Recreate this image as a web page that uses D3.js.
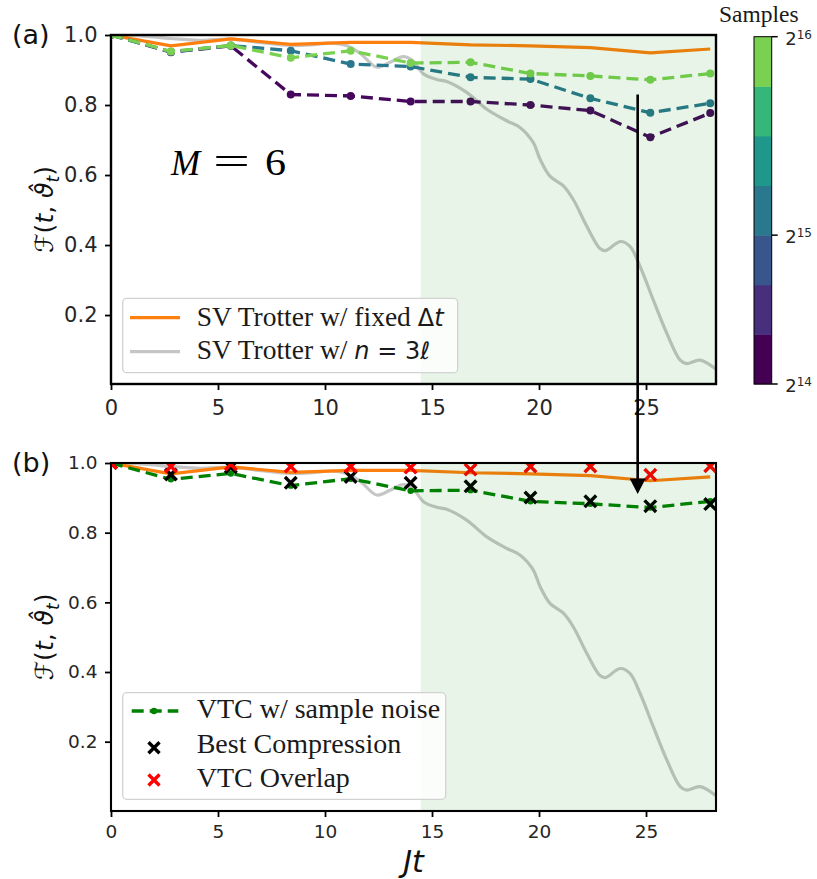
<!DOCTYPE html>
<html><head><meta charset="utf-8">
<script src="https://cdn.jsdelivr.net/npm/d3@7"></script>
<style>body{margin:0;background:#fff}svg{display:block}</style>
</head><body>
<svg id="chart" width="817" height="879"></svg>
<script>
// ---------------- data ----------------
const times = [0, 2.8, 5.6, 8.4, 11.2, 14.0, 16.8, 19.6, 22.4, 25.2, 28.0];
const fid2pow14 = [1.0, 0.951, 0.969, 0.830, 0.826, 0.810, 0.810, 0.800, 0.784, 0.708, 0.777];
const fid2pow15 = [1.0, 0.952, 0.970, 0.955, 0.917, 0.910, 0.879, 0.874, 0.819, 0.778, 0.805];
const fid2pow16 = [1.0, 0.953, 0.970, 0.935, 0.955, 0.920, 0.922, 0.890, 0.883, 0.872, 0.890];
const trotterFixed = [1.0, 0.969, 0.989, 0.973, 0.979, 0.979, 0.972, 0.969, 0.964, 0.949, 0.960];
const bestCompression = [1.0, 0.967, 0.988, 0.943, 0.960, 0.943, 0.933, 0.901, 0.890, 0.876, 0.882];
const vtcOverlap = [1.0, 0.990, 0.996, 0.990, 0.990, 0.987, 0.981, 0.990, 0.990, 0.966, 0.991];
const trotterN3Times = [0, 1.5, 2.8, 4.2, 5.6, 7.0, 8.4, 9.4, 10.3, 11.0, 11.64, 12.42, 13.04, 13.66, 14.13, 14.6, 15.22, 15.69, 16.62, 17.56, 18.49, 19.11, 19.73, 20.05, 20.51, 21.14, 21.6, 22.23, 22.85, 23.1, 23.79, 24.25, 24.72, 25.34, 25.97, 26.6, 26.9, 27.52, 28.27];
const trotterN3Fid = [1.0, 0.997, 0.99, 0.985, 0.988, 0.978, 0.97, 0.972, 0.977, 0.97, 0.948, 0.908, 0.922, 0.938, 0.925, 0.889, 0.873, 0.867, 0.836, 0.788, 0.755, 0.736, 0.693, 0.645, 0.597, 0.569, 0.53, 0.454, 0.39, 0.384, 0.41, 0.396, 0.339, 0.243, 0.148, 0.071, 0.061, 0.071, 0.045];
const xTicks = [0, 5, 10, 15, 20, 25];
const yTicks = [0.2, 0.4, 0.6, 0.8, 1.0];
const xDomain = [0, 28.27];
const shadeStart = 14.47;
const cbarLevels = 7;
const cbarTickLevels = [0, 3, 7];
const cbarTickExps = ["14", "15", "16"];
const arrowT = 24.61, arrowFromA = 0.83, arrowToB = 0.911;

// ---------------- styles ----------------
const C_ORANGE = "#ff7f0e", C_GRAY = "#c6c6c6";
const C14 = "#46085c", C15 = "#2a788e", C16 = "#7ad151";
const SERIF = "'Liberation Serif', 'Times New Roman', serif";
const SANS = "'DejaVu Sans', sans-serif";

const svg = d3.select("#chart");
const L = 111, R = 716;
const x = d3.scaleLinear().domain(xDomain).range([L, R]);

function xMark(cx, cy, h) {
  return `M${cx-h},${cy-h}L${cx+h},${cy+h}M${cx-h},${cy+h}L${cx+h},${cy-h}`;
}

function panel(cfg) {
  const y = d3.scaleLinear().domain(cfg.yDomain).range([cfg.bottom, cfg.top]);
  const g = svg.append("g");
  const cid = "clip" + cfg.id;
  svg.append("defs").append("clipPath").attr("id", cid)
    .append("rect").attr("x", L).attr("y", cfg.top).attr("width", R - L).attr("height", cfg.bottom - cfg.top);
  const plot = g.append("g").attr("clip-path", `url(#${cid})`);
  const lineXY = d3.line().x(d => x(d[0])).y(d => y(d[1]));
  plot.append("path").datum(trotterN3Times.map((t, i) => [t, trotterN3Fid[i]]))
    .attr("d", d3.line().x(d => x(d[0])).y(d => y(d[1])).curve(d3.curveCatmullRom.alpha(0.5)))
    .attr("fill", "none").attr("stroke", C_GRAY).attr("stroke-width", 3.2);
  plot.append("path").datum(times.map((t, i) => [t, trotterFixed[i]]))
    .attr("d", lineXY).attr("fill", "none").attr("stroke", C_ORANGE).attr("stroke-width", 3.2);
  cfg.dashed.forEach(s => {
    const pts = times.map((t, i) => [t, s.vals[i]]);
    plot.append("path").datum(pts).attr("d", lineXY).attr("fill", "none")
      .attr("stroke", s.color).attr("stroke-width", 3.3).attr("stroke-dasharray", "12,6");
    plot.selectAll(null).data(pts).join("circle")
      .attr("cx", d => x(d[0])).attr("cy", d => y(d[1])).attr("r", s.r).attr("fill", s.color);
  });
  (cfg.crosses || []).forEach(s => {
    plot.selectAll(null).data(times.map((t, i) => [t, s.vals[i]])).join("path")
      .attr("d", d => xMark(x(d[0]), y(d[1]), 5.8))
      .attr("stroke", s.color).attr("stroke-width", 3.4).attr("fill", "none");
  });
  g.append("rect").attr("x", x(shadeStart)).attr("y", cfg.top).attr("width", R - x(shadeStart))
    .attr("height", cfg.bottom - cfg.top).attr("fill", "#008000").attr("fill-opacity", 0.09);
  const ax = g.append("g").attr("transform", `translate(0,${cfg.bottom})`)
    .call(d3.axisBottom(x).tickValues(xTicks).tickSize(6).tickPadding(cfg.xPad).tickFormat(d3.format("d")));
  const ay = g.append("g").attr("transform", `translate(${L},0)`)
    .call(d3.axisLeft(y).tickValues(yTicks).tickSize(6).tickPadding(7.5).tickFormat(d3.format(".1f")));
  [ax, ay].forEach(a => {
    a.select(".domain").remove();
    a.selectAll(".tick line").attr("stroke", "#000").attr("stroke-width", 1.8);
    a.selectAll(".tick text").attr("font-family", SANS).attr("font-size", cfg.tickFont).attr("fill", "#262626");
  });
  g.append("rect").attr("x", L).attr("y", cfg.top).attr("width", R - L).attr("height", cfg.bottom - cfg.top)
    .attr("fill", "none").attr("stroke", "#000").attr("stroke-width", cfg.spine);
  const cy = (cfg.top + cfg.bottom) / 2;
  const yl = g.append("text").attr("transform", `translate(53,${cy}) rotate(-90)`)
    .attr("text-anchor", "middle").attr("font-family", SANS).attr("font-size", 25).attr("fill", "#111");
  yl.append("tspan").text("ℱ");
  yl.append("tspan").text("(");
  yl.append("tspan").attr("font-style", "italic").text("t");
  yl.append("tspan").text(", ");
  yl.append("tspan").attr("font-style", "italic").text("ϑ̂");
  yl.append("tspan").attr("font-style", "italic").attr("font-size", 17).attr("dy", 6).text("t");
  yl.append("tspan").attr("dy", -6).text(")");
  g.append("text").attr("x", 12).attr("y", cfg.letterY).attr("font-family", SANS).attr("font-size", 27)
    .attr("fill", "#111").text(cfg.letter);
  return y;
}

const yA = panel({ id: "a", top: 35, bottom: 384, yDomain: [0.003, 1.0], tickFont: 21, xPad: 10, spine: 2.4,
  letter: "(a)", letterY: 44,
  dashed: [{ vals: fid2pow14, color: C14, r: 4 }, { vals: fid2pow15, color: C15, r: 4 }, { vals: fid2pow16, color: C16, r: 4 }] });
const yB = panel({ id: "b", top: 463, bottom: 811, yDomain: [0.001, 1.0], tickFont: 18.5, xPad: 8, spine: 2.1,
  letter: "(b)", letterY: 472,
  dashed: [{ vals: fid2pow16, color: "#008000", r: 3.2 }],
  crosses: [{ vals: bestCompression, color: "#000" }, { vals: vtcOverlap, color: "#ff0000" }] });

svg.append("text").attr("x", (L + R) / 2).attr("y", 872).attr("text-anchor", "middle")
  .attr("font-family", SANS).attr("font-style", "italic").attr("font-size", 30).attr("fill", "#111").text("Jt");

// M = 6
svg.append("text").attr("x", 171).attr("y", 175).attr("font-family", SERIF).attr("font-style", "italic")
  .attr("font-size", 35).attr("fill", "#000").text("M");
svg.append("text").attr("x", 213).attr("y", 175).attr("font-family", SERIF).attr("font-size", 40)
  .attr("textLength", 37).attr("lengthAdjust", "spacingAndGlyphs").attr("fill", "#000").text("=");
svg.append("text").attr("x", 265).attr("y", 175).attr("font-family", SERIF).attr("font-size", 38)
  .attr("textLength", 21).attr("lengthAdjust", "spacingAndGlyphs").attr("fill", "#000").text("6");

function legendBox(x0, y0, w, h) {
  svg.append("rect").attr("x", x0).attr("y", y0).attr("width", w).attr("height", h).attr("rx", 4)
    .attr("fill", "#fff").attr("fill-opacity", 0.8).attr("stroke", "#d2d2d2").attr("stroke-width", 1.3);
}
legendBox(122.7, 298.3, 335, 74.4);
svg.append("line").attr("x1", 130).attr("x2", 180).attr("y1", 317.7).attr("y2", 317.7).attr("stroke", C_ORANGE).attr("stroke-width", 3.2);
svg.append("line").attr("x1", 130).attr("x2", 180).attr("y1", 351.7).attr("y2", 351.7).attr("stroke", C_GRAY).attr("stroke-width", 3.2);
const t1 = svg.append("text").attr("x", 196.7).attr("y", 325.7).attr("font-family", SERIF).attr("font-size", 27.5).attr("fill", "#1a1a1a");
t1.append("tspan").text("SV Trotter w/ fixed ");
t1.append("tspan").attr("font-family", SANS).attr("font-size", 24).text("Δ");
t1.append("tspan").attr("font-family", SANS).attr("font-size", 24).attr("font-style", "italic").text("t");
const t2 = svg.append("text").attr("x", 196.7).attr("y", 359).attr("font-family", SERIF).attr("font-size", 27.5).attr("fill", "#1a1a1a");
t2.append("tspan").text("SV Trotter w/ ");
t2.append("tspan").attr("font-family", SANS).attr("font-size", 24).attr("font-style", "italic").text("n");
t2.append("tspan").attr("font-family", SANS).attr("font-size", 24).text(" = 3");
t2.append("tspan").attr("font-family", SANS).attr("font-size", 24).attr("font-style", "italic").text("ℓ");

legendBox(122.7, 692.7, 323, 106.6);
svg.append("line").attr("x1", 131.7).attr("x2", 178.3).attr("y1", 711).attr("y2", 711)
  .attr("stroke", "#008000").attr("stroke-width", 3.3).attr("stroke-dasharray", "12,6");
svg.append("circle").attr("cx", 154).attr("cy", 711).attr("r", 3.2).attr("fill", "#008000");
[[747.7, "#000"], [780, "#ff0000"]].forEach(([cy, c]) => {
  svg.append("path").attr("d", xMark(154, cy, 5.5)).attr("stroke", c).attr("stroke-width", 3.4);
});
[["VTC w/ sample noise", 718.3], ["Best Compression", 752.7], ["VTC Overlap", 786.7]].forEach(([s, yy]) => {
  svg.append("text").attr("x", 196.7).attr("y", yy).attr("font-family", SERIF).attr("font-size", 28)
    .attr("fill", "#1a1a1a").text(s);
});

// arrow
const ax0 = x(arrowT), ay0 = yA(arrowFromA), tip = yB(arrowToB);
svg.append("line").attr("x1", ax0).attr("x2", ax0).attr("y1", ay0).attr("y2", tip - 12)
  .attr("stroke", "#000").attr("stroke-width", 2.6);
svg.append("path").attr("d", `M${ax0},${tip}L${ax0-8},${tip-15.5}L${ax0+8},${tip-15.5}Z`).attr("fill", "#000");

// colorbar
const cbX = 754, cbW = 17.7;
const cbY = d3.scaleLinear().domain([0, cbarLevels]).range([384, 36.7]);
svg.selectAll(null).data(d3.range(cbarLevels)).join("rect")
  .attr("x", cbX).attr("width", cbW).attr("y", d => cbY(d + 1)).attr("height", d => cbY(d) - cbY(d + 1) + 0.5)
  .attr("fill", d => d3.interpolateViridis(d * 0.8 / (cbarLevels - 1)));
svg.append("rect").attr("x", cbX).attr("y", cbY(cbarLevels)).attr("width", cbW).attr("height", cbY(0) - cbY(cbarLevels))
  .attr("fill", "none").attr("stroke", "#000").attr("stroke-width", 1);
const cbAxis = svg.append("g").attr("transform", `translate(${cbX + cbW},0)`);
cbarTickLevels.forEach((lv, i) => {
  const yy = cbY(lv);
  cbAxis.append("line").attr("x1", 0).attr("x2", 6).attr("y1", yy).attr("y2", yy).attr("stroke", "#000").attr("stroke-width", 1.5);
  const tx = cbAxis.append("text").attr("x", 13.5).attr("y", yy + 8).attr("font-family", SANS).attr("font-size", 18).attr("fill", "#262626");
  tx.append("tspan").text("2");
  tx.append("tspan").attr("dy", -6).attr("font-size", 12).text(cbarTickExps[i]);
});
svg.append("text").attr("x", 719).attr("y", 22).attr("font-family", SERIF).attr("font-size", 23.5).attr("fill", "#1a1a1a").text("Samples");
</script>
</body></html>
